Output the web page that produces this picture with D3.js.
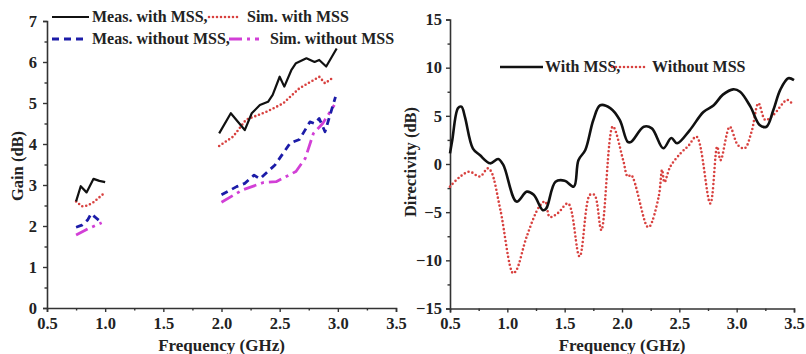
<!DOCTYPE html>
<html>
<head>
<meta charset="utf-8">
<script src="https://cdn.jsdelivr.net/npm/d3@7"></script>
<style>
  body { margin: 0; background: #fff; }
  svg text { font-family: "Liberation Serif", "Times New Roman", serif; font-weight: bold; fill: #222; }
</style>
</head>
<body>
<div id="chart"></div>
<script>
// ---- data (frequency GHz, value dB); null marks the gap between bands ----
const gainMeasWith = [[0.75, 2.6], [0.79, 2.97], [0.84, 2.82], [0.9, 3.15], [0.95, 3.1], [1.0, 3.07], [1.5, null],
  [1.98, 4.26], [2.08, 4.75], [2.2, 4.34], [2.26, 4.75], [2.33, 4.95], [2.4, 5.03], [2.44, 5.2], [2.5, 5.64],
  [2.54, 5.4], [2.6, 5.8], [2.64, 5.97], [2.73, 6.09], [2.8, 6.0], [2.84, 6.05], [2.9, 5.89], [2.99, 6.33]];
const gainSimWith = [[0.75, 2.6], [0.8, 2.48], [0.85, 2.5], [0.9, 2.58], [0.95, 2.7], [1.0, 2.82], [1.5, null],
  [1.98, 3.95], [2.1, 4.18], [2.21, 4.59], [2.39, 4.79], [2.53, 4.99], [2.67, 5.36], [2.84, 5.64], [2.89, 5.48], [2.97, 5.64]];
const gainMeasWithout = [[0.75, 1.97], [0.8, 2.02], [0.85, 2.15], [0.88, 2.3], [0.92, 2.2], [0.97, 2.08], [1.5, null],
  [2.0, 2.76], [2.13, 2.96], [2.2, 3.04], [2.28, 3.24], [2.33, 3.15], [2.46, 3.49], [2.59, 4.02], [2.67, 4.11],
  [2.76, 4.54], [2.8, 4.5], [2.84, 4.62], [2.89, 4.3], [2.98, 5.15]];
const gainSimWithout = [[0.75, 1.78], [0.85, 1.93], [0.97, 2.08], [1.5, null],
  [2.0, 2.58], [2.18, 2.88], [2.36, 3.06], [2.47, 3.08], [2.64, 3.33], [2.72, 3.65], [2.79, 4.26], [2.87, 4.5], [2.97, 4.95]];

const dirWith = [[0.5, 1.1], [0.52, 2.5], [0.57, 5.8], [0.6, 5.95], [0.63, 4.9], [0.7, 1.6], [0.76, 0.93], [0.85, 0.07],
  [0.92, 0.52], [0.965, -0.1], [1.08, -3.9], [1.17, -2.87], [1.23, -3.2], [1.31, -4.8], [1.34, -4.6], [1.42, -1.84],
  [1.5, -1.73], [1.58, -2.35], [1.62, 0.4], [1.68, 1.45], [1.75, 4.57], [1.81, 6.1], [1.9, 5.78], [1.98, 4.57],
  [2.05, 2.3], [2.08, 2.3], [2.19, 3.87], [2.26, 3.7], [2.36, 1.63], [2.43, 2.7], [2.48, 2.15], [2.59, 3.5],
  [2.71, 5.4], [2.8, 6.1], [2.88, 7.2], [2.97, 7.75], [3.03, 7.5], [3.12, 5.95], [3.2, 4.05], [3.26, 3.87],
  [3.32, 5.6], [3.38, 7.7], [3.45, 8.9], [3.5, 8.7]];
const dirWithout = [[0.5, -2.35], [0.59, -1.3], [0.67, -0.8], [0.76, -1.3], [0.83, -0.45], [0.86, -0.8], [0.94, -4.8],
  [1.05, -11.35], [1.08, -11.0], [1.17, -7.5], [1.28, -4.4], [1.33, -3.9], [1.37, -5.5], [1.44, -5.1], [1.53, -4.1],
  [1.63, -9.6], [1.72, -3.2], [1.76, -3.2], [1.82, -6.85], [1.92, 3.9], [2.01, 0.4], [2.05, -1.3], [2.08, -1.15],
  [2.22, -6.5], [2.24, -6.5], [2.32, -3.4], [2.35, -0.6], [2.37, -1.9], [2.42, -0.3], [2.51, 1.1], [2.58, 1.9],
  [2.65, 2.84], [2.77, -4.1], [2.83, 1.8], [2.86, 0.4], [2.94, 3.87], [3.01, 1.97], [3.07, 1.63], [3.13, 3.35],
  [3.19, 6.3], [3.25, 4.57], [3.32, 5.1], [3.44, 6.65], [3.48, 6.3]];

const freqTicks = [0.5, 1.0, 1.5, 2.0, 2.5, 3.0, 3.5];
const gainTicks = [0, 1, 2, 3, 4, 5, 6, 7];
const dirTicks = [-15, -10, -5, 0, 5, 10, 15];

const width = 806;
const height = 354;

const svg = d3.select('#chart')
  .append('svg')
    .attr('width', width)
    .attr('height', height);

const styles = {
  measWith: { stroke: '#111', width: 2.2, dash: null, cap: 'butt' },
  simWith: { stroke: '#d8413f', width: 2.6, dash: '0 4', cap: 'round' },
  measWithout: { stroke: '#1c1ca8', width: 2.8, dash: '7 5', cap: 'butt' },
  simWithout: { stroke: '#d23fd6', width: 2.8, dash: '13 5 3 5', cap: 'butt' }
};

function drawAxes(g, x, y, xTicks, yTicks, yMinor, xTitle, yTitle, yTitleX) {
  g.append('g')
    .attr('transform', `translate(0, ${y.range()[0]})`)
    .call(d3.axisBottom(x).tickValues(xTicks).tickFormat(d3.format('.1f')).tickSize(4).tickPadding(5));
  g.append('g')
    .attr('transform', `translate(0, ${y.range()[0]})`)
    .call(d3.axisBottom(x).tickValues(d3.range(0.75, 3.5, 0.5)).tickFormat('').tickSize(2.5))
    .select('.domain').remove();

  g.append('g')
    .attr('transform', `translate(${x.range()[0]}, 0)`)
    .call(d3.axisLeft(y).tickValues(yTicks).tickFormat(d3.format('d')).tickSize(4).tickPadding(yTitleX.pad));
  g.append('g')
    .attr('transform', `translate(${x.range()[0]}, 0)`)
    .call(d3.axisLeft(y).tickValues(yMinor).tickFormat('').tickSize(2.5))
    .select('.domain').remove();

  g.selectAll('.domain').attr('stroke', '#333').attr('stroke-width', 1.6);
  g.selectAll('.tick line').attr('stroke', '#333').attr('stroke-width', 1.4);
  g.selectAll('.tick text')
    .style('font-family', '"Liberation Serif", serif')
    .style('font-weight', 'bold')
    .style('font-size', '16.5px')
    .attr('fill', '#222');

  const xm = (x.range()[0] + x.range()[1]) / 2;
  g.append('text')
    .attr('x', xm)
    .attr('y', 351)
    .attr('text-anchor', 'middle')
    .style('font-size', '17px')
    .text(xTitle);

  g.append('text')
    .attr('transform', `translate(${yTitleX.x}, ${yTitleX.cy}) rotate(-90)`)
    .attr('text-anchor', 'middle')
    .style('font-size', '16.5px')
    .text(yTitle);
}

function drawLine(g, data, line, st) {
  g.append('path')
    .datum(data)
    .attr('fill', 'none')
    .attr('stroke', st.stroke)
    .attr('stroke-width', st.width)
    .attr('stroke-dasharray', st.dash)
    .attr('stroke-linecap', st.cap)
    .attr('stroke-linejoin', 'round')
    .attr('d', line);
}

function legendItem(g, x1, x2, y, st, label, tx) {
  g.append('line')
    .attr('x1', x1).attr('x2', x2)
    .attr('y1', y).attr('y2', y)
    .attr('stroke', st.stroke)
    .attr('stroke-width', st.width)
    .attr('stroke-dasharray', st.dash)
    .attr('stroke-linecap', st.cap);
  g.append('text')
    .attr('x', tx)
    .attr('y', y + 5)
    .style('font-size', '16px')
    .text(label);
}

// ---- left panel: gain ----
const left = svg.append('g');
const xL = d3.scaleLinear().domain([0.5, 3.5]).range([47, 396]);
const yL = d3.scaleLinear().domain([0, 7]).range([308, 21]);
drawAxes(left, xL, yL, freqTicks, gainTicks, d3.range(0.5, 7, 1), 'Frequency (GHz)', 'Gain (dB)',
  { x: 23, cy: 166, pad: 6 });

const lineL = d3.line()
  .defined(d => d[1] !== null)
  .x(d => xL(d[0]))
  .y(d => yL(d[1]));

drawLine(left, gainSimWith, lineL, styles.simWith);
drawLine(left, gainSimWithout, lineL, styles.simWithout);
drawLine(left, gainMeasWithout, lineL, styles.measWithout);
drawLine(left, gainMeasWith, lineL, styles.measWith);

legendItem(left, 52, 89, 17, styles.measWith, 'Meas. with MSS,', 92);
legendItem(left, 209, 241, 17, styles.simWith, 'Sim. with MSS', 247);
legendItem(left, 52, 84, 39, styles.measWithout, 'Meas. without MSS,', 92);
legendItem(left, 229, 259, 39, styles.simWithout, 'Sim. without MSS', 270);

// ---- right panel: directivity ----
const right = svg.append('g');
const xR = d3.scaleLinear().domain([0.5, 3.5]).range([450, 794]);
const yR = d3.scaleLinear().domain([-15, 15]).range([308.5, 19.5]);
drawAxes(right, xR, yR, freqTicks, dirTicks, d3.range(-12.5, 15, 5), 'Frequency (GHz)', 'Directivity (dB)',
  { x: 416, cy: 162, pad: 4 });

const lineR = d3.line()
  .x(d => xR(d[0]))
  .y(d => yR(d[1]))
  .curve(d3.curveCatmullRom.alpha(0.5));

const dirWithStyle = { stroke: '#111', width: 2.6, dash: null, cap: 'butt' };
drawLine(right, dirWithout, lineR, styles.simWith);
drawLine(right, dirWith, lineR, dirWithStyle);

legendItem(right, 500, 543, 67, dirWithStyle, 'With MSS,', 545);
legendItem(right, 612, 648, 67, styles.simWith, 'Without MSS', 652);
</script>
</body>
</html>
